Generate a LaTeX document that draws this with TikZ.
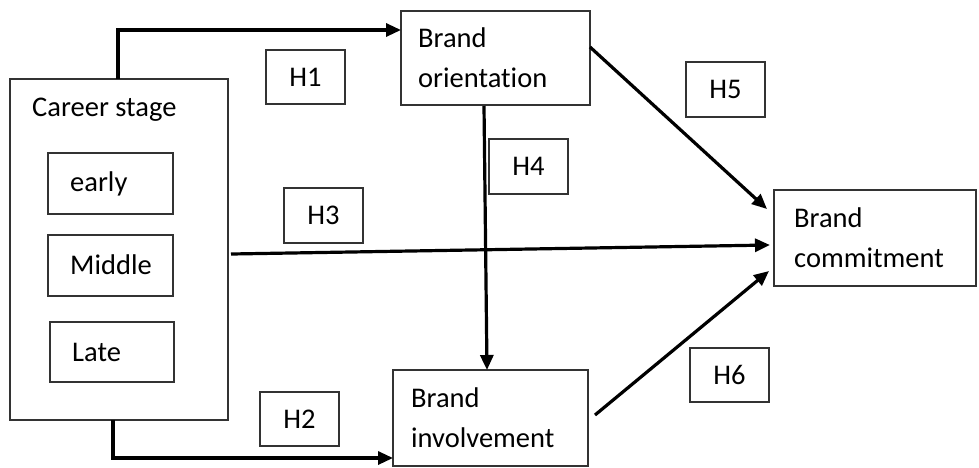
\documentclass[tikz,border=0pt]{standalone}
\usepackage{fontspec}
\setmainfont{Carlito}[Ligatures={NoCommon}]
\usetikzlibrary{arrows.meta}
\begin{document}
\begin{tikzpicture}[x=1pt,y=-1pt,
  box/.style={draw=black!80,line width=1.6pt},
  lbl/.style={anchor=west,inner sep=0pt,align=left,font=\fontsize{28.5}{40}\selectfont},
  hbox/.style={draw=black!80,line width=1.6pt,font=\fontsize{28.5}{30}\selectfont,inner sep=0pt},
  link/.style={line width=3.2pt,-{Triangle[length=15pt,width=13pt]}}]
\useasboundingbox (0,0) rectangle (979,467);

% Career stage group
\draw[box] (10,79) rectangle (228,420);
\node[lbl] (cs) at (32,110) {Career stage};
\draw[box] (48,153) rectangle (173,214);
\node[lbl] (early) at (70,184) {early};
\draw[box] (48,235) rectangle (173,296);
\node[lbl] (middle) at (70,265) {Middle};
\draw[box] (50,322) rectangle (174,382);
\node[lbl] (late) at (72,352) {Late};

% Main constructs
\draw[box] (401,11) rectangle (590,105);
\node[lbl] (bo) at (418,58) {Brand\\orientation};
\draw[box] (393,370) rectangle (588,466);
\node[lbl] (bi) at (411,418) {Brand\\involvement};
\draw[box] (774,190) rectangle (976,286);
\node[lbl] (bc) at (794,238) {Brand\\commitment};

% Hypothesis labels
\node[hbox,minimum width=79pt,minimum height=54pt] (h1) at (305.5,77) {H1};
\node[hbox,minimum width=79pt,minimum height=55pt] (h3) at (323.5,215.5) {H3};
\node[hbox,minimum width=79pt,minimum height=54pt] (h2) at (299.5,419) {H2};
\node[hbox,minimum width=79pt,minimum height=55pt] (h4) at (528.5,166.5) {H4};
\node[hbox,minimum width=79pt,minimum height=55pt] (h5) at (725.5,89.5) {H5};
\node[hbox,minimum width=79pt,minimum height=54pt] (h6) at (729.5,375) {H6};

% Connector end points
\coordinate (csTop) at (118,79);
\coordinate (csBot) at (113,420);
\coordinate (boIn) at (401,30);
\coordinate (biIn) at (393,458);
\coordinate (csRight) at (231,254);
\coordinate (bcMid) at (770,245);
\coordinate (boBot) at (484,106);
\coordinate (biTop) at (487,370);
\coordinate (boRight) at (590,47);
\coordinate (bcUp) at (767,209);
\coordinate (biRight) at (595,415);
\coordinate (bcLow) at (769,271);

\draw[link] (csTop) |- (boIn);
\draw[link] (csBot) |- (biIn);
\draw[link] (csRight) -- (bcMid);
\draw[link] (boBot) -- (biTop);
\draw[link] (boRight) -- (bcUp);
\draw[link] (biRight) -- (bcLow);
\end{tikzpicture}
\end{document}
